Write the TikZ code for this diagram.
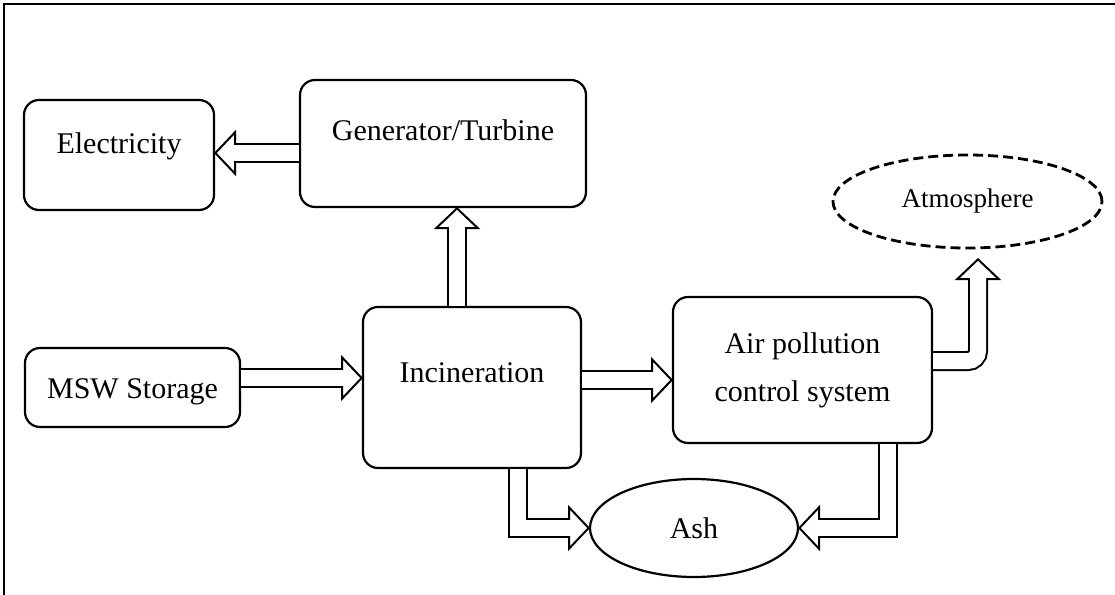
\documentclass[tikz,border=0pt]{standalone}
\usepackage{fontspec}
\setmainfont{Liberation Serif}
\usetikzlibrary{shapes.geometric,arrows.meta,positioning,calc}

\begin{document}
\begin{tikzpicture}[
    x=0.5pt, y=-0.5pt,
    every node/.style={align=center, font=\fontsize{15}{24}\selectfont},
    box/.style={rectangle, rounded corners=7.5pt, draw, line width=1.1pt, inner sep=0pt, outer sep=0pt},
    lift/.style={text height=10.5pt, text depth=#1},
    sink/.style={ellipse, draw, line width=1.1pt, inner sep=0pt, outer sep=0pt},
    flow/.style={draw, line width=10pt, shorten <=0.6pt,
        -{Triangle[length=11pt, width=23pt, fill=white, line width=1pt]},
        postaction={draw=white, line width=8pt, shorten <=0.6pt, shorten >=9.5pt, -}}
]
\useasboundingbox (0,0) rectangle (1115,595);

% Frame
\draw[line width=1.2pt] (4,595) -- (4,4) -- (1115,4);

% Plant
\node[box, lift=12pt, minimum width=95pt, minimum height=55pt] (elec) at (119,155) {Electricity};
\node[box, lift=13.5pt, minimum width=143pt, minimum height=63.5pt] (gen) at (443,143.5) {Generator/Turbine};
\node[box, lift=0pt, minimum width=107.5pt, minimum height=39.5pt] (msw) at (132.5,387.5) {MSW Storage};
\node[box, lift=15.5pt, minimum width=109pt, minimum height=80.5pt] (inc) at (472,387.5) {Incineration};
\node[box, minimum width=129.5pt, minimum height=73pt] (apc) at (802.5,370) {Air pollution\\control system};
\node[sink, dashed, dash pattern=on 5pt off 2.5pt, line width=1.4pt, minimum width=134.5pt, minimum height=46.5pt,
      font=\fontsize{13.5}{16}\selectfont] (atm) at (967.5,201.5) {Atmosphere};
\node[sink, minimum width=104pt, minimum height=49pt] (ash) at (694,528) {Ash};

% Connections
\coordinate (genout) at ([yshift=-4.75pt]gen.west);
\draw[flow] (genout) -- (genout -| elec.east);
\coordinate (incup) at ([xshift=-7.5pt]inc.north);
\draw[flow] (incup) -- (incup |- gen.south);
\coordinate (mswout) at ([yshift=4.75pt]msw.east);
\draw[flow] (mswout) -- (mswout -| inc.west);
\coordinate (incout) at ([yshift=3.75pt]inc.east);
\draw[flow] (incout) -- (incout -| apc.west);
\coordinate (apcup) at ([yshift=4.5pt]apc.east);
\coordinate (atmin) at ([xshift=5.25pt, yshift=-5pt]atm.south);
\draw[flow, rounded corners=5pt] (apcup) -| (atmin);

% Ash removal
\coordinate (incdown) at ([xshift=23pt]inc.south);
\draw[flow] (incdown) |- (ash.west);
\coordinate (apcdown) at ([xshift=42.75pt]apc.south);
\draw[flow] (apcdown) |- (ash.east);

\end{tikzpicture}
\end{document}
